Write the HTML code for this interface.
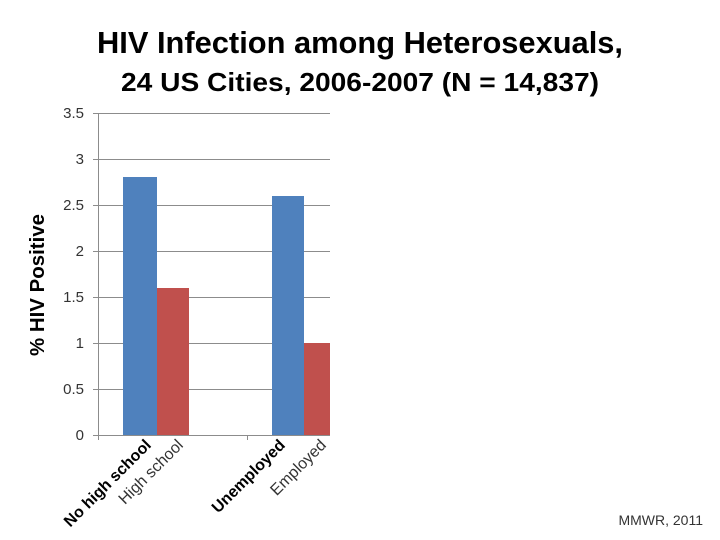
<!DOCTYPE html>
<html><head><meta charset="utf-8"><style>body{margin:0;background:#fff}svg{display:block}</style></head><body>
<svg width="720" height="540" xmlns="http://www.w3.org/2000/svg" font-family="Liberation Sans, sans-serif">
<rect width="720" height="540" fill="#fff"/>
<text x="360" y="53" text-anchor="middle" font-weight="bold" font-size="31" textLength="526" lengthAdjust="spacingAndGlyphs">HIV Infection among Heterosexuals,</text>
<text x="360" y="91" text-anchor="middle" font-weight="bold" font-size="26" textLength="478" lengthAdjust="spacingAndGlyphs">24 US Cities, 2006-2007 (N = 14,837)</text>
<g stroke="#8c8c8c" stroke-width="1">
<line x1="93" y1="113.5" x2="330" y2="113.5"/>
<line x1="93" y1="159.5" x2="330" y2="159.5"/>
<line x1="93" y1="205.5" x2="330" y2="205.5"/>
<line x1="93" y1="251.5" x2="330" y2="251.5"/>
<line x1="93" y1="297.5" x2="330" y2="297.5"/>
<line x1="93" y1="343.5" x2="330" y2="343.5"/>
<line x1="93" y1="389.5" x2="330" y2="389.5"/>
<line x1="93" y1="435.5" x2="330" y2="435.5"/>
<line x1="98.5" y1="113" x2="98.5" y2="440"/>
<line x1="247.5" y1="435" x2="247.5" y2="440"/>
</g>
<rect x="123" y="177" width="34" height="258" fill="#4f81bd"/>
<rect x="157" y="288" width="32" height="147" fill="#c0504d"/>
<rect x="272" y="196" width="32" height="239" fill="#4f81bd"/>
<rect x="304" y="343" width="26" height="92" fill="#c0504d"/>
<g font-size="15" fill="#333" text-anchor="end">
<text x="84" y="118">3.5</text><text x="84" y="164">3</text><text x="84" y="210">2.5</text>
<text x="84" y="256">2</text><text x="84" y="302">1.5</text><text x="84" y="348">1</text>
<text x="84" y="394">0.5</text><text x="84" y="440">0</text>
</g>
<g font-size="16" text-anchor="end" fill="#000">
<text transform="translate(152,446) rotate(-45)" font-weight="bold">No high school</text>
<text transform="translate(184,446) rotate(-45)" fill="#333">High school</text>
<text transform="translate(286,446) rotate(-45)" font-weight="bold">Unemployed</text>
<text transform="translate(327,446) rotate(-45)" fill="#333">Employed</text>
</g>
<text transform="translate(44,285) rotate(-90)" text-anchor="middle" font-weight="bold" font-size="20" textLength="142" lengthAdjust="spacingAndGlyphs">% HIV Positive</text>
<text x="703" y="525" text-anchor="end" font-size="14" fill="#333">MMWR, 2011</text>
</svg>
</body></html>
